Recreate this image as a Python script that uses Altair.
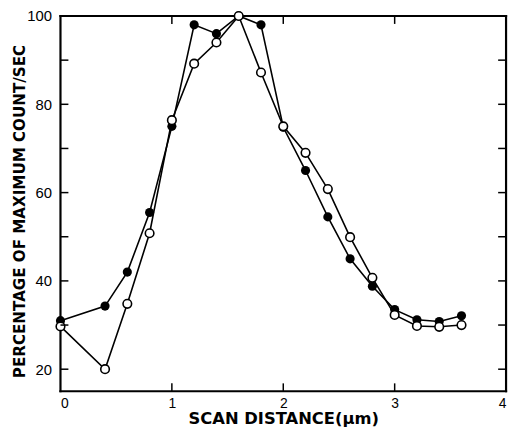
import altair as alt
import pandas as pd

# scan distance (µm)
x_vals = [0.0, 0.4, 0.6, 0.8, 1.0, 1.2, 1.4, 1.6, 1.8, 2.0, 2.2, 2.4, 2.6, 2.8, 3.0, 3.2, 3.4, 3.6]
# filled-circle series (% of max count/sec)
filled = [31.0, 34.3, 42.0, 55.5, 75.0, 98.0, 96.0, 100.0, 98.0, 74.8, 65.0, 54.5, 45.0, 38.8, 33.5, 31.2, 30.8, 32.1]
# open-circle series
opened = [29.7, 20.0, 34.8, 50.8, 76.4, 89.2, 94.0, 100.0, 87.2, 75.0, 69.0, 60.8, 49.9, 40.7, 32.3, 29.8, 29.6, 30.0]

y_minor = [20, 30, 40, 50, 60, 70, 80, 90]
x_minor = [1, 2, 3]
y_labels = [20, 40, 60, 80, 100]
x_labels = [0, 1, 2, 3, 4]

W, H = 450, 379
FONT = "Liberation Sans"
TFONT = "DejaVu Sans"

df_f = pd.DataFrame({"x": x_vals, "y": filled})
df_o = pd.DataFrame({"x": x_vals, "y": opened})
df_yt = pd.DataFrame({"y": y_minor})
df_xt = pd.DataFrame({"x": x_minor})
df_one = pd.DataFrame({"k": [0]})

xs = alt.Scale(domain=[0, 4], nice=False, zero=False)
ys = alt.Scale(domain=[15, 100], nice=False, zero=False)

X = alt.X("x:Q", scale=xs, title="SCAN DISTANCE(μm)",
          axis=alt.Axis(values=x_labels, ticks=False, domain=False, grid=False,
                        labelFont=FONT, labelFontSize=14, labelColor="black",
                        labelPadding=5, titleFont=TFONT, titleFontSize=16.5,
                        titleFontWeight="bold", titleColor="black",
                        titleBaseline="alphabetic", titleY=33))
Y = alt.Y("y:Q", scale=ys, title="PERCENTAGE OF MAXIMUM COUNT/SEC",
          axis=alt.Axis(values=y_labels, ticks=False, domain=False, grid=False,
                        labelFont=FONT, labelFontSize=15, labelColor="black",
                        labelPadding=9, titleFont=TFONT, titleFontSize=15.3,
                        titleFontWeight="bold", titleColor="black",
                        titleAngle=270, titleBaseline="bottom",
                        titleX=-33, titleY=197))

line_f = alt.Chart(df_f).mark_line(color="black", strokeWidth=1.6).encode(x=X, y=Y)
pts_f = alt.Chart(df_f).mark_point(filled=True, color="black", size=85, opacity=1).encode(x=X, y=Y)
line_o = alt.Chart(df_o).mark_line(color="black", strokeWidth=1.6).encode(x=X, y=Y)
pts_o = alt.Chart(df_o).mark_point(filled=True, fill="white", stroke="black",
                                   strokeWidth=1.6, size=75, opacity=1).encode(x=X, y=Y)

tick_l = alt.Chart(df_yt).mark_rule(color="black", strokeWidth=1.5).encode(
    y=Y, x=alt.value(0), x2=alt.value(8))
tick_r = alt.Chart(df_yt).mark_rule(color="black", strokeWidth=1.5).encode(
    y=Y, x=alt.value(W - 8), x2=alt.value(W))
tick_b = alt.Chart(df_xt).mark_rule(color="black", strokeWidth=1.5).encode(
    x=X, y=alt.value(H - 8), y2=alt.value(H))
tick_t = alt.Chart(df_xt).mark_rule(color="black", strokeWidth=1.5).encode(
    x=X, y=alt.value(0), y2=alt.value(8))

# plot frame
fr_kw = dict(color="black", strokeWidth=2.2, strokeCap="square")
fr_top = alt.Chart(df_one).mark_rule(**fr_kw).encode(x=alt.value(0), x2=alt.value(W), y=alt.value(0))
fr_bot = alt.Chart(df_one).mark_rule(**fr_kw).encode(x=alt.value(0), x2=alt.value(W), y=alt.value(H))
fr_left = alt.Chart(df_one).mark_rule(**fr_kw).encode(y=alt.value(0), y2=alt.value(H), x=alt.value(0))
fr_right = alt.Chart(df_one).mark_rule(**fr_kw).encode(y=alt.value(0), y2=alt.value(H), x=alt.value(W))

chart = alt.layer(fr_top, fr_bot, fr_left, fr_right, line_f, line_o, pts_f, pts_o,
                  tick_l, tick_r, tick_b, tick_t).properties(
    width=W, height=H,
    background="white",
    autosize=alt.AutoSizeParams(type="none"),
    padding={"left": 53, "top": 6, "right": 6, "bottom": 34},
).configure_view(strokeWidth=0)

chart.save("out.html", embed_options={"renderer": "svg", "actions": False})
